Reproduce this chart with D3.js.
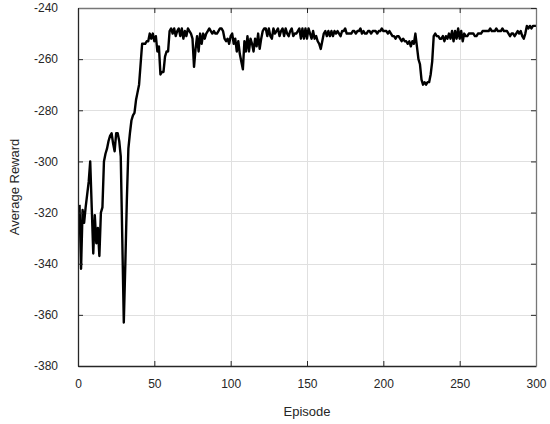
<!DOCTYPE html>
<html>
<head>
<meta charset="utf-8">
<script src="https://cdn.jsdelivr.net/npm/d3@7"></script>
<style>
  html, body { margin: 0; padding: 0; background: #fff; }
  svg { display: block; }
  text { font-family: "Liberation Sans", Arial, sans-serif; fill: #262626; }
</style>
</head>
<body>
<svg id="chart" width="550" height="424"></svg>
<script>
const xTicks = [0, 50, 100, 150, 200, 250, 300];
const yTicks = [-380, -360, -340, -320, -300, -280, -260, -240];
const xLabel = "Episode";
const yLabel = "Average Reward";

const rewards = [
  -317, -342, -319, -324, -318, -313, -308, -300, -318, -336,
  -321, -332, -326, -337, -320, -318, -300, -297, -295, -292,
  -290, -289, -293, -296, -289, -289, -292, -298, -330, -363,
  -340, -315, -295, -289, -284, -282, -281, -276, -273, -270,
  -262, -254, -254, -254, -253, -253, -250, -252, -250, -253,
  -251, -257, -255, -266, -265, -265, -259, -257, -257, -249,
  -248, -250, -248, -251, -249, -248, -251, -248, -252, -249,
  -251, -248, -249, -250, -252, -263, -256, -251, -257, -250,
  -254, -250, -252, -250, -249, -248, -249, -250, -249, -250,
  -250, -249, -248, -248, -249, -252, -253, -252, -254, -251,
  -250, -254, -252, -257, -253, -258, -261, -264, -253, -257,
  -251, -257, -252, -254, -257, -252, -255, -250, -256, -252,
  -249, -248, -248, -251, -248, -251, -252, -248, -250, -249,
  -248, -251, -249, -248, -251, -248, -250, -251, -249, -248,
  -251, -250, -250, -249, -248, -252, -248, -252, -248, -252,
  -248, -250, -252, -249, -252, -251, -253, -254, -256, -253,
  -250, -249, -251, -249, -251, -249, -251, -249, -250, -249,
  -250, -251, -249, -249, -248, -250, -250, -250, -250, -249,
  -249, -250, -249, -249, -248, -250, -249, -250, -250, -249,
  -249, -250, -249, -249, -249, -250, -249, -249, -248, -249,
  -249, -249, -250, -249, -250, -251, -251, -252, -251, -251,
  -252, -253, -252, -253, -253, -254, -253, -255, -253, -254,
  -250, -255, -260, -262, -268, -270, -269, -270, -269, -269,
  -266, -261, -251, -250, -251, -251, -252, -252, -251, -253,
  -251, -252, -250, -252, -249, -253, -249, -252, -248, -252,
  -249, -253, -250, -251, -251, -250, -250, -250, -250, -251,
  -251, -250, -250, -250, -249, -249, -249, -249, -249, -248,
  -249, -249, -249, -248, -249, -249, -249, -248, -249, -249,
  -249, -250, -251, -250, -250, -251, -250, -249, -250, -249,
  -251, -252, -250, -247, -248, -247, -248, -247, -247, -247
];
const episodes = rewards.map((_, i) => i + 1);

const margin = { left: 78, right: 14, top: 8, bottom: 58 };
const W = 550, H = 424;
const svg = d3.select("#chart");

const x = d3.scaleLinear().domain([0, 300]).range([margin.left, W - margin.right]);
const y = d3.scaleLinear().domain([-380, -240]).range([H - margin.bottom, margin.top]);

const x0 = x.range()[0], x1 = x.range()[1];
const y0 = y.range()[0], y1 = y.range()[1];

// grid
const grid = svg.append("g");
grid.selectAll("line.gx").data(xTicks.slice(1, -1)).join("line")
  .attr("x1", d => Math.round(x(d)) + 0.5).attr("x2", d => Math.round(x(d)) + 0.5)
  .attr("y1", y1).attr("y2", y0)
  .attr("stroke", "#e0e0e0").attr("stroke-width", 1);
grid.selectAll("line.gy").data(yTicks.slice(1, -1)).join("line")
  .attr("y1", d => Math.round(y(d)) + 0.5).attr("y2", d => Math.round(y(d)) + 0.5)
  .attr("x1", x0).attr("x2", x1)
  .attr("stroke", "#e0e0e0").attr("stroke-width", 1);

// line
const line = d3.line().x((d, i) => x(episodes[i])).y(d => y(d));
svg.append("path").datum(rewards)
  .attr("d", line)
  .attr("fill", "none").attr("stroke", "#000").attr("stroke-width", 2.4)
  .attr("stroke-linejoin", "round");

// axes (MATLAB-like: inward ticks, box)
const axisColor = "#262626";
const fmt = d => String(d);
const gBottom = svg.append("g").attr("transform", `translate(0,${y0})`)
  .call(d3.axisBottom(x).tickValues(xTicks).tickFormat(fmt).tickSize(-5).tickPadding(13).tickSizeOuter(0));
const gLeft = svg.append("g").attr("transform", `translate(${x0},0)`)
  .call(d3.axisLeft(y).tickValues(yTicks).tickFormat(fmt).tickSize(-5).tickPadding(20).tickSizeOuter(0));
const gTop = svg.append("g").attr("transform", `translate(0,${y1})`)
  .call(d3.axisTop(x).tickValues(xTicks).tickSize(-5).tickFormat("").tickSizeOuter(0));
const gRight = svg.append("g").attr("transform", `translate(${x1},0)`)
  .call(d3.axisRight(y).tickValues(yTicks).tickSize(-5).tickFormat("").tickSizeOuter(0));

[gBottom, gLeft, gTop, gRight].forEach(g => {
  g.selectAll("path.domain").attr("stroke", axisColor).attr("stroke-width", 1.3);
  g.selectAll(".tick line").attr("stroke", axisColor).attr("stroke-width", 1);
  g.selectAll(".tick text").attr("font-family", "Liberation Sans, Arial, sans-serif")
    .attr("font-size", 12).attr("fill", axisColor);
});
gTop.select("path.domain").attr("stroke", "#777");
gRight.select("path.domain").attr("stroke", "#777");

// labels
svg.append("text").attr("x", (x0 + x1) / 2).attr("y", 416)
  .attr("text-anchor", "middle").attr("font-size", 13).text(xLabel);
svg.append("text").attr("transform", `translate(19,${(y0 + y1) / 2}) rotate(-90)`)
  .attr("text-anchor", "middle").attr("font-size", 13).text(yLabel);
</script>
</body>
</html>
